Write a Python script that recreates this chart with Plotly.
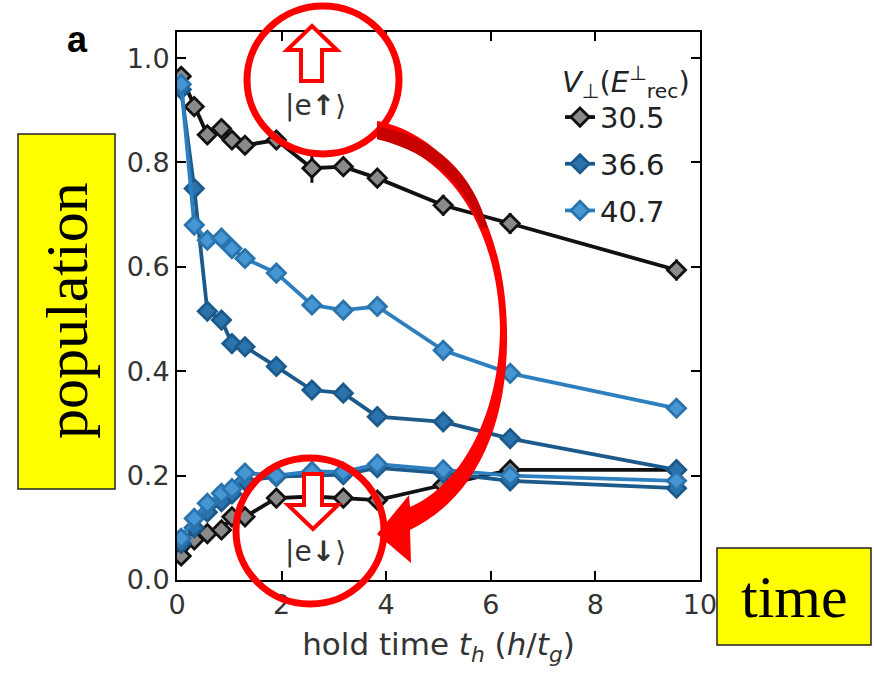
import plotly.graph_objects as go

# ---------------- data ----------------
hold_time = [0.08, 0.33, 0.58, 0.85, 1.05, 1.30, 1.90, 2.58, 3.18, 3.83, 5.09, 6.37, 9.55]

series_names = ["30.5", "36.6", "40.7"]

up_305 = [0.965, 0.907, 0.853, 0.865, 0.843, 0.833, 0.843, 0.789, 0.792, 0.770, 0.718, 0.683, 0.594]
dn_305 = [0.046, 0.077, 0.089, 0.096, 0.121, 0.121, 0.157, 0.160, 0.157, 0.153, 0.182, 0.211, 0.211]
eu_305 = [0.010, 0.010, 0.010, 0.012, 0.012, 0.016, 0.015, 0.028, 0.010, 0.010, 0.020, 0.020, 0.020]
ed_305 = [0.008, 0.008, 0.008, 0.008, 0.008, 0.008, 0.010, 0.010, 0.008, 0.008, 0.010, 0.010, 0.010]

up_366 = [0.940, 0.750, 0.515, 0.498, 0.453, 0.447, 0.409, 0.364, 0.358, 0.313, 0.303, 0.271, 0.211]
dn_366 = [0.070, 0.100, 0.130, 0.150, 0.165, 0.190, 0.198, 0.200, 0.202, 0.215, 0.205, 0.190, 0.176]
eu_366 = [0.010, 0.012, 0.010, 0.010, 0.010, 0.010, 0.010, 0.010, 0.010, 0.010, 0.010, 0.012, 0.010]
ed_366 = [0.008, 0.008, 0.008, 0.008, 0.008, 0.008, 0.008, 0.008, 0.008, 0.008, 0.008, 0.010, 0.010]

up_407 = [0.950, 0.680, 0.651, 0.655, 0.635, 0.616, 0.588, 0.527, 0.517, 0.524, 0.440, 0.396, 0.329]
dn_407 = [0.080, 0.118, 0.147, 0.166, 0.175, 0.205, 0.200, 0.208, 0.207, 0.222, 0.211, 0.200, 0.190]
eu_407 = [0.010, 0.010, 0.010, 0.010, 0.010, 0.010, 0.010, 0.010, 0.010, 0.010, 0.010, 0.010, 0.010]
ed_407 = [0.008, 0.008, 0.008, 0.008, 0.008, 0.008, 0.008, 0.008, 0.008, 0.008, 0.008, 0.010, 0.010]

x_ticks = [0, 2, 4, 6, 8, 10]
y_ticks = [0.0, 0.2, 0.4, 0.6, 0.8, 1.0]

# ---------------- styles ----------------
line_colors = ["#111111", "#1c5a8c", "#2e7fbf"]
fill_colors = ["#8a8a8a", "#2a73ad", "#4596d2"]
edge_colors = ["#111111", "#1c5a8c", "#2a73ad"]

W, H = 874, 673
L, R, T, B = 177, 700, 32, 580


def px(x):
    return (x - L) / (R - L)


def py(y):
    return (B - y) / (B - T)


def poly(points):
    s = "M " + " L ".join(f"{px(x):.5f},{py(y):.5f}" for x, y in points)
    return s + " Z"


def P(x, y):
    return f"{px(x):.5f},{py(y):.5f}"


fig = go.Figure()

ups = [up_305, up_366, up_407]
dns = [dn_305, dn_366, dn_407]
eus = [eu_305, eu_366, eu_407]
eds = [ed_305, ed_366, ed_407]

for i, name in enumerate(series_names):
    xs = hold_time + [None] + hold_time
    ys = ups[i] + [None] + dns[i]
    es = eus[i] + [0] + eds[i]
    fig.add_trace(go.Scatter(
        x=xs, y=ys, name=name, mode="lines+markers",
        legendgroup=name,
        connectgaps=False,
        line=dict(color=line_colors[i], width=3.8),
        marker=dict(symbol="diamond", size=14, color=fill_colors[i],
                    line=dict(color=edge_colors[i], width=2.8)),
        error_y=dict(type="data", array=es, visible=True,
                     color=line_colors[i], thickness=3, width=0),
        cliponaxis=True,
    ))

shapes = []
# red circles
shapes.append(dict(type="circle", xref="paper", yref="paper",
                   x0=px(323 - 76), x1=px(323 + 76), y0=py(80 + 74), y1=py(80 - 74),
                   line=dict(color="#ff0000", width=7), layer="above"))
shapes.append(dict(type="circle", xref="paper", yref="paper",
                   x0=px(310 - 74), x1=px(310 + 74), y0=py(531 + 73), y1=py(531 - 73),
                   line=dict(color="#ff0000", width=7), layer="above"))
# hollow up arrow
shapes.append(dict(type="path", xref="paper", yref="paper",
                   path=poly([(312, 26), (337, 50), (322, 50), (322, 81), (301, 81), (301, 50), (287, 50)]),
                   fillcolor="white", line=dict(color="#ff0000", width=4), layer="above"))
# hollow down arrow
shapes.append(dict(type="path", xref="paper", yref="paper",
                   path=poly([(313, 529), (288, 505), (304, 505), (304, 474), (322, 474), (322, 505), (338, 505)]),
                   fillcolor="white", line=dict(color="#ff0000", width=4), layer="above"))

curved = (f"M {P(377,121)} C {P(450,135)} {P(505,215)} {P(507,330)} "
          f"C {P(509,430)} {P(472,500)} {P(410,530)} "
          f"L {P(411,563)} L {P(377,534)} L {P(409,495)} L {P(410,507)} "
          f"C {P(458,487)} {P(499,420)} {P(500,330)} "
          f"C {P(499,230)} {P(450,153)} {P(377,139)} Z")
shapes.append(dict(type="path", xref="paper", yref="paper", path=curved,
                   fillcolor="#ff0000", line=dict(width=0), layer="above"))
dark = (f"M {P(377,126)} C {P(438,137)} {P(474,176)} {P(488,228)} "
        f"L {P(481,228)} C {P(465,186)} {P(436,154)} {P(377,139)} Z")
shapes.append(dict(type="path", xref="paper", yref="paper", path=dark,
                   fillcolor="#c80000", line=dict(width=0), layer="above"))

# yellow boxes
shapes.append(dict(type="rect", xref="paper", yref="paper",
                   x0=px(18), x1=px(115), y0=py(489), y1=py(134),
                   fillcolor="#ffff00", line=dict(color="#222222", width=1.5), layer="above"))
shapes.append(dict(type="rect", xref="paper", yref="paper",
                   x0=px(717), x1=px(871), y0=py(645), y1=py(548),
                   fillcolor="#ffff00", line=dict(color="#222222", width=1.5), layer="above"))

annotations = [
    dict(text="population", xref="paper", yref="paper", x=px(67), y=py(311),
         textangle=-90, showarrow=False, xanchor="center", yanchor="middle",
         font=dict(family="Liberation Serif", size=60, color="black")),
    dict(text="time", xref="paper", yref="paper", x=px(794), y=py(597),
         showarrow=False, xanchor="center", yanchor="middle",
         font=dict(family="Liberation Serif", size=60, color="black")),
    dict(text="<b>a</b>", xref="paper", yref="paper", x=px(77), y=py(40),
         showarrow=False, xanchor="center", yanchor="middle",
         font=dict(family="Liberation Sans", size=36, color="black")),
    dict(text="|e<b>↑</b>⟩", xref="paper", yref="paper", x=px(315), y=py(105),
         showarrow=False, xanchor="center", yanchor="middle",
         font=dict(family="DejaVu Sans", size=28, color="#333333")),
    dict(text="|e<b>↓</b>⟩", xref="paper", yref="paper", x=px(315), y=py(551),
         showarrow=False, xanchor="center", yanchor="middle",
         font=dict(family="DejaVu Sans", size=28, color="#333333")),
]

axis_common = dict(showline=True, linewidth=2, linecolor="black", mirror="ticks",
                   ticks="inside", ticklen=9, tickwidth=1.5, tickcolor="black",
                   showgrid=False, zeroline=False,
                   tickfont=dict(family="DejaVu Sans", size=27, color="#333333"))

fig.update_layout(
    width=W, height=H,
    margin=dict(l=L, r=W - R, t=T, b=H - B, pad=0),
    paper_bgcolor="white", plot_bgcolor="white",
    xaxis=dict(range=[0, 10], tickvals=x_ticks, ticktext=[str(v) for v in x_ticks],
               title=dict(text="hold time <i>t<sub>h</sub></i> (<i>h</i>/<i>t<sub>g</sub></i>)",
                          font=dict(family="DejaVu Sans", size=31, color="#333333"), standoff=14),
               **axis_common),
    yaxis=dict(range=[0, 1.05], tickvals=y_ticks, ticktext=[f"{v:.1f}" for v in y_ticks],
               **axis_common),
    showlegend=True,
    legend=dict(x=px(560), y=py(54), xanchor="left", yanchor="top",
                bgcolor="rgba(0,0,0,0)", borderwidth=0,
                traceorder="grouped", tracegroupgap=6,
                font=dict(family="DejaVu Sans", size=29, color="#222222"),
                title=dict(text="<i>V</i><sub>⊥</sub>(<i>E</i><sup>⊥</sup><sub>rec</sub>)",
                           font=dict(family="DejaVu Sans", size=29, color="#222222"))),
    shapes=shapes,
    annotations=annotations,
)

fig.write_html("out.html")
